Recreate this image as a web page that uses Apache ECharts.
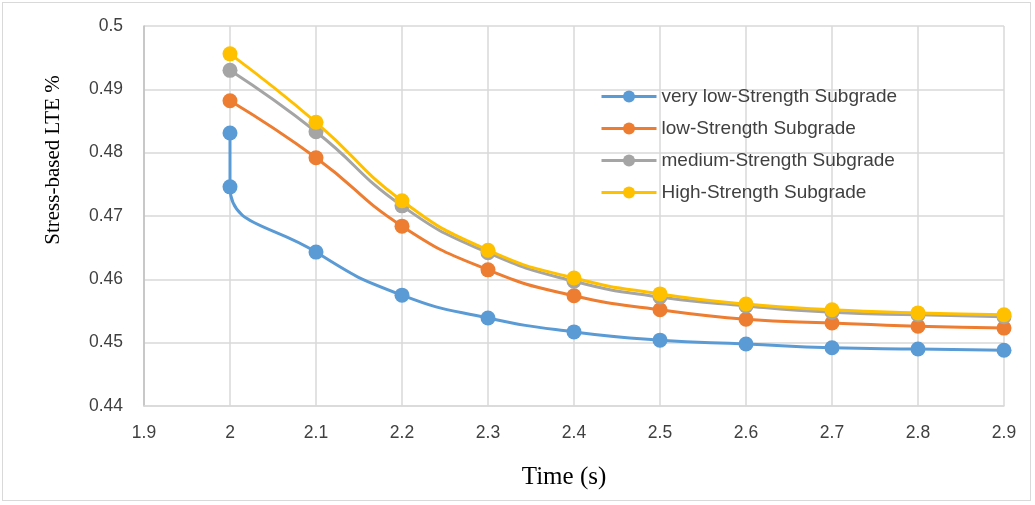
<!DOCTYPE html>
<html>
<head>
<meta charset="utf-8">
<script src="https://cdn.jsdelivr.net/npm/echarts@6/dist/echarts.min.js"></script>
<style>
html,body{margin:0;padding:0;background:#fff;}
#wrap{position:absolute;left:2px;top:2px;width:1029px;height:499px;border:1px solid #d9d9d9;box-sizing:border-box;}
#chart{width:1035px;height:505px;position:absolute;left:0;top:0;}
</style>
</head>
<body>
<div id="wrap"></div>
<div id="chart"></div>
<script>
const timeVeryLow = [2, 2, 2.1, 2.2, 2.3, 2.4, 2.5, 2.6, 2.7, 2.8, 2.9];
const lteVeryLow = [0.4831, 0.4746, 0.4643, 0.4575, 0.4539, 0.4517, 0.4504, 0.4498, 0.4492, 0.4490, 0.4488];
const timeOthers = [2, 2.1, 2.2, 2.3, 2.4, 2.5, 2.6, 2.7, 2.8, 2.9];
const lteLow = [0.4882, 0.4792, 0.4684, 0.4615, 0.4574, 0.4552, 0.4537, 0.4531, 0.4526, 0.4523];
const lteMedium = [0.4930, 0.4833, 0.4716, 0.4642, 0.4597, 0.4572, 0.4558, 0.4548, 0.4544, 0.4541];
const lteHigh = [0.4956, 0.4848, 0.4724, 0.4646, 0.4602, 0.4577, 0.4561, 0.4552, 0.4547, 0.4544];
const seriesNames = ['very low-Strength Subgrade', 'low-Strength Subgrade', 'medium-Strength Subgrade', 'High-Strength Subgrade'];
const seriesColors = ['#5b9bd5', '#ed7d31', '#a5a5a5', '#ffc000'];

const pairs = (xs, ys) => xs.map((x, i) => [x, ys[i]]);
const dataSets = [
  pairs(timeVeryLow, lteVeryLow),
  pairs(timeOthers, lteLow),
  pairs(timeOthers, lteMedium),
  pairs(timeOthers, lteHigh)
];

const chart = echarts.init(document.getElementById('chart'), null, {renderer: 'canvas'});
const labelFont = 'Liberation Sans';
chart.setOption({
  animation: false,
  backgroundColor: 'transparent',
  grid: {left: 144, right: 31, top: 26, bottom: 99, containLabel: false},
  legend: {
    orient: 'vertical',
    left: 595, top: 82,
    itemWidth: 55, itemHeight: 15, itemGap: 13,
    lineStyle: {width: 3},
    textStyle: {fontFamily: labelFont, fontSize: 19, color: '#404040', lineHeight: 19},
    data: seriesNames
  },
  xAxis: {
    type: 'value', min: 1.9, max: 2.9, interval: 0.1,
    name: 'Time (s)', nameLocation: 'middle', nameGap: 59,
    nameTextStyle: {fontFamily: 'Liberation Serif', fontSize: 25, color: '#000', padding: [0, 20, 0, 0]},
    axisLine: {show: true, lineStyle: {color: '#d9d9d9', width: 1.5}},
    axisTick: {show: false},
    splitLine: {show: true, lineStyle: {color: '#d9d9d9', width: 1.5}},
    axisLabel: {fontFamily: labelFont, fontSize: 17.5, color: '#404040', margin: 18,
      formatter: v => String(Math.round(v * 10) / 10)}
  },
  yAxis: {
    type: 'value', min: 0.44, max: 0.5, interval: 0.01,
    name: 'Stress-based LTE %', nameLocation: 'middle', nameGap: 80,
    nameTextStyle: {fontFamily: 'Liberation Serif', fontSize: 21, color: '#000', padding: [0, 0, 0, 112]},
    axisLine: {show: true, lineStyle: {color: '#bfbfbf', width: 1.5}},
    axisTick: {show: false},
    splitLine: {show: true, lineStyle: {color: '#d9d9d9', width: 1.5}},
    axisLabel: {fontFamily: labelFont, fontSize: 17.5, color: '#404040', margin: 21,
      formatter: v => String(Math.round(v * 100) / 100)}
  },
  series: seriesNames.map((n, i) => ({
    name: n, type: 'line', data: dataSets[i],
    smooth: 0.5,
    symbol: 'circle', symbolSize: 15,
    lineStyle: {width: 3, color: seriesColors[i]},
    itemStyle: {color: seriesColors[i]},
    z: 2 + i
  }))
});
</script>
</body>
</html>
